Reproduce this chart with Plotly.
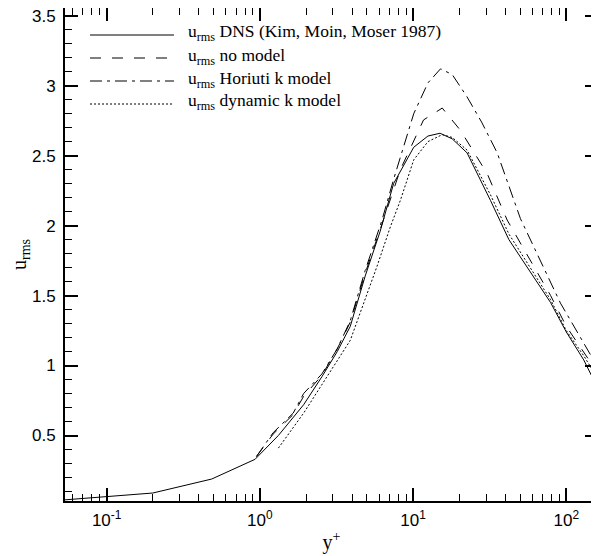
import plotly.graph_objects as go

# ---- data ----
dns_y = [0.053, 0.2, 0.485, 0.93, 1.32, 1.93, 2.54, 3.2, 3.89, 4.87, 6.1, 7.46, 10.1, 12.5, 15.0, 18.0, 22.5, 32.0, 42.2, 55.0, 79.0, 100.0, 130.0, 162.0]
dns_u = [0.04, 0.089, 0.189, 0.33, 0.50, 0.72, 0.92, 1.10, 1.28, 1.64, 1.96, 2.30, 2.56, 2.64, 2.66, 2.62, 2.52, 2.18, 1.90, 1.71, 1.45, 1.24, 1.04, 0.83]

nomodel_y = [0.95, 1.22, 1.65, 1.93, 2.54, 3.2, 3.89, 4.87, 6.4, 8.26, 11.7, 15.5, 20.4, 30.5, 41.1, 55.0, 79.0, 100.0, 130.0, 162.0]
nomodel_u = [0.35, 0.51, 0.65, 0.78, 0.93, 1.12, 1.31, 1.66, 2.04, 2.40, 2.755, 2.84, 2.68, 2.37, 2.04, 1.80, 1.50, 1.28, 1.10, 0.94]

horiuti_y = [0.95, 1.22, 1.65, 1.93, 2.54, 3.2, 3.89, 4.87, 6.27, 7.46, 10.1, 12.5, 15.1, 18.0, 22.5, 28.0, 35.4, 50.2, 91.6, 151.0, 162.0]
horiuti_u = [0.35, 0.52, 0.66, 0.80, 0.94, 1.12, 1.32, 1.68, 2.04, 2.33, 2.80, 3.02, 3.12, 3.08, 2.92, 2.74, 2.52, 2.05, 1.446, 1.04, 0.98]

dynamic_y = [1.32, 1.93, 2.74, 3.89, 5.82, 7.1, 8.26, 10.1, 12.5, 15.5, 18.0, 22.5, 32.0, 42.2, 79.0, 100.0, 130.0, 162.0]
dynamic_u = [0.41, 0.66, 0.92, 1.18, 1.71, 1.99, 2.18, 2.47, 2.60, 2.65, 2.63, 2.54, 2.22, 1.94, 1.47, 1.25, 1.07, 0.90]

legend_labels = [
    "u<sub>rms</sub> DNS (Kim, Moin, Moser 1987)",
    "u<sub>rms</sub> no model",
    "u<sub>rms</sub> Horiuti k model",
    "u<sub>rms</sub> dynamic k model",
]
x_tickvals = [0.1, 1, 10, 100]
x_ticktext = ["10<sup>-1</sup>", "10<sup>0</sup>", "10<sup>1</sup>", "10<sup>2</sup>"]

dashes = ["solid", "11px,11px", "12px,5px,3px,5px", "2px,2px"]
series = [(dns_y, dns_u), (nomodel_y, nomodel_u), (horiuti_y, horiuti_u), (dynamic_y, dynamic_u)]

SERIF = "Liberation Serif, Times New Roman, serif"

fig = go.Figure()
for (xs, ys), d, name in zip(series, dashes, legend_labels):
    fig.add_trace(go.Scatter(x=xs, y=ys, mode="lines", name=name,
                             line=dict(color="black", width=1, dash=d),
                             showlegend=False))

# page has an 8px body margin: figure is placed at (8, 8) in the window
OFF = 8
W, H = 591, 548
L, R, T, B = 57, 1, 0, 55
pw, ph = W - L - R, H - T - B
def px(x): return (x - OFF - L) / pw          # window px -> paper
def py(y): return (H - B - (y - OFF)) / ph    # window px -> paper
rows = [35, 58, 81, 104]
shapes = []
annotations = []
for r, d, name in zip(rows, dashes, legend_labels):
    shapes.append(dict(type="line", xref="paper", yref="paper",
                       x0=px(90), x1=px(174), y0=py(r), y1=py(r),
                       line=dict(color="black", width=1, dash=d)))
    annotations.append(dict(xref="paper", yref="paper", x=px(186), y=py(r - 2),
                            text=name, showarrow=False, xanchor="left", yanchor="middle",
                            font=dict(family=SERIF, size=17.5, color="black")))

minor_x = [m * 10.0 ** e for e in range(-2, 3) for m in range(2, 10)]

fig.update_layout(
    width=W, height=H,
    margin=dict(l=L, r=R, t=T, b=B, autoexpand=False),
    plot_bgcolor="white", paper_bgcolor="white",
    shapes=shapes, annotations=annotations,
    font=dict(family="Liberation Sans, Arial, sans-serif", size=16, color="black"),
)
fig.update_xaxes(
    type="log", range=[-1.272, 2.207], automargin=False,
    tickmode="array", tickvals=x_tickvals, ticktext=x_ticktext,
    ticks="inside", ticklen=13, tickwidth=1.5, tickcolor="black",
    minor=dict(tickmode="array", tickvals=minor_x, ticks="inside", ticklen=7, tickwidth=1, tickcolor="black", showgrid=False),
    showline=True, linewidth=2, linecolor="black", mirror="allticks",
    showgrid=False, zeroline=False, ticklabelstandoff=3, ticklabeloverflow="allow",
    tickfont=dict(size=17),
    title=dict(text="y<sup>+</sup>", font=dict(family=SERIF, size=20), standoff=6),
)
fig.update_yaxes(
    range=[0.032, 3.555], automargin=False,
    tickmode="linear", tick0=0, dtick=0.5,
    ticks="inside", ticklen=13, tickwidth=1.5, tickcolor="black",
    minor=dict(dtick=0.1, ticks="inside", ticklen=7, tickwidth=1, tickcolor="black", showgrid=False),
    showline=True, linewidth=2, linecolor="black", mirror="allticks",
    showgrid=False, zeroline=False, ticklabelstandoff=4, ticklabeloverflow="allow",
    tickfont=dict(size=17),
    title=dict(text="u<sub>rms</sub>", font=dict(family=SERIF, size=20), standoff=18),
)

fig.write_html("out.html")
